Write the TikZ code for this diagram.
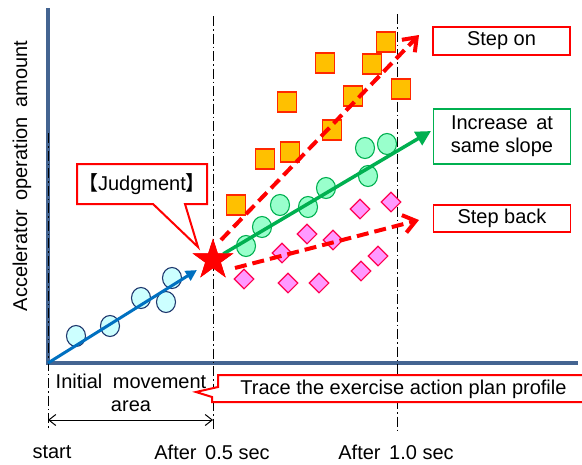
\documentclass[tikz,border=0pt]{standalone}
\usepackage{fontspec}
\setmainfont{Liberation Sans}
\newfontfamily\cjkfont{Noto Sans CJK JP}
\usetikzlibrary{shapes.geometric,arrows.meta}
\definecolor{axisc}{RGB}{68,100,145}
\definecolor{bluea}{RGB}{0,112,192}
\definecolor{bluefill}{RGB}{204,255,255}
\definecolor{blueline}{RGB}{31,56,110}
\definecolor{sqfill}{RGB}{255,192,0}
\definecolor{sqline}{RGB}{255,40,0}
\definecolor{grn}{RGB}{0,176,80}
\definecolor{grnfill}{RGB}{153,255,204}
\definecolor{pinkfill}{RGB}{255,153,255}
\definecolor{pinkline}{RGB}{255,0,80}
\definecolor{redc}{RGB}{255,0,0}
\begin{document}
\begin{tikzpicture}[x=1pt,y=-1pt, font=\fontsize{20}{23}\selectfont,
 dashdot/.style={black, line width=1pt, dash pattern=on 10pt off 3pt on 1.5pt off 3pt},
 axisline/.style={axisc, line width=3.5pt},
 sqm/.style={draw=sqline, fill=sqfill, line width=1.2pt, minimum width=19pt, minimum height=20pt, inner sep=0pt},
 gcm/.style={ellipse, draw=grn, fill=grnfill, line width=1.1pt, minimum width=19pt, minimum height=21pt, inner sep=0pt},
 bcm/.style={ellipse, draw=blueline, fill=bluefill, line width=1.1pt, minimum width=19pt, minimum height=21pt, inner sep=0pt},
 dmm/.style={diamond, draw=pinkline, fill=pinkfill, line width=1.1pt, minimum width=20pt, minimum height=20pt, inner sep=0pt},
 labelbox/.style={draw, line width=1.5pt, fill=white, minimum width=137pt, align=center, inner sep=0pt},
 redarrow/.style={redc, line width=4pt, dash pattern=on 12pt off 6pt, -{Straight Barb[length=12pt, width=18pt]}},
 callout/.style={redc, line width=2pt, fill=white},
 txt/.style={inner sep=0pt, align=center}
 ]
\useasboundingbox (0,0) rectangle (582,464);
% axes
\coordinate (ytop) at (48,8);
\coordinate (origin) at (48,363);
\coordinate (xend) at (578,363);
\draw[axisline] (ytop) -- (origin) -- (xend);
% dash-dot time lines
\coordinate (t0a) at (48,133);
\coordinate (t0b) at (48,428);
\coordinate (t5a) at (213,16);
\coordinate (t5b) at (213,430);
\coordinate (t10a) at (397,14);
\coordinate (t10b) at (397,432);
\draw[dashdot] (t0a) -- (t0b);
\draw[dashdot] (t5a) -- (t5b);
\draw[dashdot] (t10a) -- (t10b);
% axis label
\node[txt, rotate=90] (ylab) at (22,176) {Accelerator\hspace{4pt} operation\hspace{4pt} amount};
% blue circles
\foreach \p [count=\i] in {(76,336),(110,326),(141,298),(166,302),(172,278)}
  \node[bcm] (b\i) at \p {};
% squares
\foreach \p [count=\i] in {(386,42),(325,63),(372,64),(401,89),(287,102),(353,96),(332,130),(265,159),(290,152),(236,205)}
  \node[sqm] (s\i) at \p {};
% green circles
\foreach \p [count=\i] in {(365,148),(387,144),(368,176),(326,188),(308,207),(280,205),(262,227),(246,246)}
  \node[gcm] (g\i) at \p {};
% diamonds
\foreach \p [count=\i] in {(360,209),(391,202),(307,234),(333,240),(282,253),(378,256),(361,271),(244,279),(288,283),(319,283)}
  \node[dmm] (d\i) at \p {};
% star
\node[star, star points=5, star point ratio=2.618, fill=redc, minimum size=43pt, inner sep=0pt] (star) at (213,260) {};
% arrows
\draw[bluea, line width=3pt, shorten >=19pt, -{Triangle[length=11pt,width=11pt]}] (origin) -- (star.center);
\coordinate (onS) at (221,240);
\coordinate (onE) at (419,35);
\coordinate (backS) at (235,268);
\coordinate (backE) at (419,220);
\coordinate (incE) at (431,131);
\draw[grn, line width=3.5pt, shorten <=12pt, -{Triangle[length=15pt,width=15pt]}] (star.center) -- (incE);
\draw[redarrow] (onS) -- (onE);
\draw[redarrow] (backS) -- (backE);
\node[star, star points=5, star point ratio=2.618, fill=redc, minimum size=43pt, inner sep=0pt] at (star.center) {};
% labels on right
\node[labelbox, draw=redc, minimum height=28pt] (on) at (501.5,41) {Step on};
\node[labelbox, draw=grn, minimum height=55pt] (inc) at (502,136.5) {Increase\hspace{3pt} at\\same slope};
\node[labelbox, draw=redc, minimum height=27pt] (back) at (502,218.5) {Step back};
% judgment callout
\coordinate (jtip) at (198,247);
\draw[callout] (77,164) -- (207,164) -- (207,204) -- (185,204) -- (jtip) -- (153,204) -- (77,204) -- cycle;
\node[txt] (judg) at (142,184) {{\cjkfont 【}Judgment{\cjkfont 】}};
% trace callout
\coordinate (ttip) at (196,392);
\draw[callout] (218,375) -- (584,375) -- (584,402) -- (212,402) -- (212,397) -- (ttip) -- (218,387) -- cycle;
\node[txt] (trace) at (403.5,389) {Trace the exercise action plan profile};
% initial movement area
\node[txt] (init) at (131,392.5) {Initial\hspace{5pt} movement\\area};
\coordinate (s0) at (48,420);
\coordinate (s5) at (213,420);
\draw[black, line width=1pt, {Straight Barb[length=7pt,width=11pt]}-{Straight Barb[length=7pt,width=11pt]}] (s0) -- (s5);
% time labels
\node[txt] (lstart) at (52,452) {start};
\node[txt] (l05) at (212,452) {After\hspace{3pt} 0.5 sec};
\node[txt] (l10) at (396,452) {After\hspace{3pt} 1.0 sec};
\end{tikzpicture}
\end{document}
